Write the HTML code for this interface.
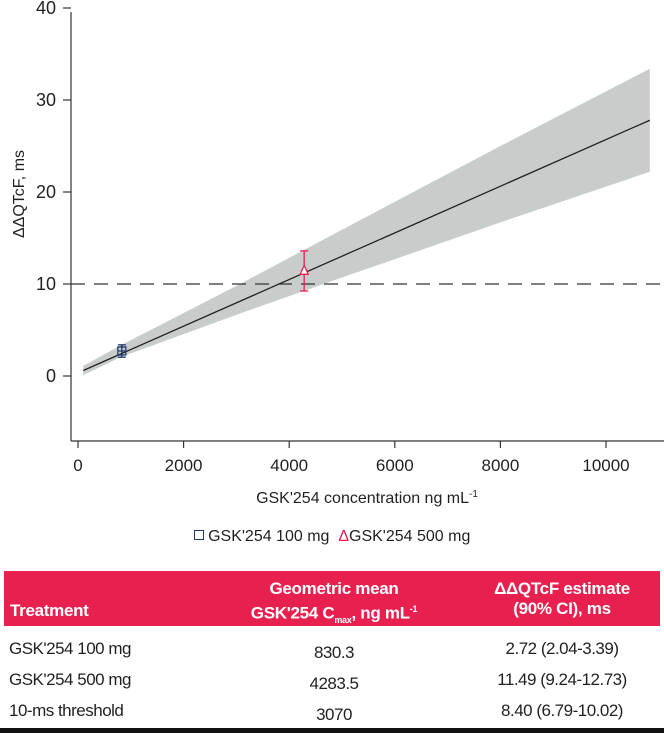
<!DOCTYPE html>
<html><head><meta charset="utf-8"><style>
body{margin:0;width:664px;height:733px;background:#fff;font-family:"Liberation Sans",sans-serif;overflow:hidden;position:relative}
svg{position:absolute;left:0;top:0}
.t{position:absolute;font-size:17px;color:#231f20;letter-spacing:-0.5px}
</style></head><body>
<svg id="chart" width="664" height="560"></svg>
<div style="position:absolute;top:528px;left:0;width:664px;text-align:center;font-size:16px;color:#231f20">
<span><span style="display:inline-block;width:8px;height:8px;border:1.5px solid #1f3a6e;vertical-align:1px"></span> GSK'254 100 mg</span>
&nbsp;<span><span style="color:#e8204f">&#916;</span>GSK'254 500 mg</span>
</div>
<div style="position:absolute;left:4px;top:571px;width:656px;height:55px;background:#e8204f;color:#fff;font-weight:bold;font-size:17px;letter-spacing:-0.3px">
<div style="position:absolute;left:6px;top:30px">Treatment</div>
<div style="position:absolute;left:200px;width:260px;top:8px;text-align:center;line-height:20px">Geometric mean<br>GSK'254 C<sub style="font-size:9px">max</sub>, ng mL<sup style="font-size:9px">-1</sup></div>
<div style="position:absolute;left:460px;width:196px;top:8px;text-align:center;line-height:20px">&#916;&#916;QTcF estimate<br>(90% CI), ms</div>
</div>
<div class="t" style="left:9px;top:639px">GSK'254 100 mg</div>
<div class="t" style="left:204px;width:260px;text-align:center;top:643px">830.3</div>
<div class="t" style="left:464px;width:196px;text-align:center;top:639px">2.72 (2.04-3.39)</div>
<div class="t" style="left:9px;top:670px">GSK'254 500 mg</div>
<div class="t" style="left:204px;width:260px;text-align:center;top:674px">4283.5</div>
<div class="t" style="left:464px;width:196px;text-align:center;top:670px">11.49 (9.24-12.73)</div>
<div class="t" style="left:9px;top:701px">10-ms threshold</div>
<div class="t" style="left:204px;width:260px;text-align:center;top:705px">3070</div>
<div class="t" style="left:464px;width:196px;text-align:center;top:701px">8.40 (6.79-10.02)</div>
<div style="position:absolute;left:0;top:728px;width:664px;height:5px;background:#111"></div>
<script>
const yTicks=[0,10,20,30,40];
const xTicks=[0,2000,4000,6000,8000,10000];
const bandConc=[100,830,3070,5000,8000,10830];
const bandLower=[0.1,2.1,6.8,10.7,16.7,22.2];
const bandUpper=[1.1,3.4,10.0,15.9,25.0,33.4];
const fitConc=[100,10830];
const fitVal=[0.6,27.8];
const ptConc=[830.3,4283.5];
const ptVal=[2.72,11.49];
const ptLo=[2.04,9.24];
const ptHi=[3.39,13.6];
const ptXerr=[60,60];
const threshold=10;
const X=v=>78+v*0.0528, Y=v=>376-v*9.2;
const svg=document.getElementById('chart');
const NS='http://www.w3.org/2000/svg';
function mk(t,a,p){const e=document.createElementNS(NS,t);for(const k in a)e.setAttribute(k,a[k]);(p||svg).appendChild(e);return e;}
let d=bandConc.map((c,i)=>(i?'L':'M')+X(c)+','+Y(bandUpper[i])).join('')+bandConc.slice().reverse().map((c,j)=>{const i=bandConc.length-1-j;return 'L'+X(c)+','+Y(bandLower[i]);}).join('')+'Z';
let b=mk('path',{d:d,fill:'#c8cdcc'});


let th=mk('line',{x1:71,x2:664,y1:Y(threshold),y2:Y(threshold),stroke:'#333','stroke-width':1.3,'stroke-dasharray':'14,9'});


let fl=mk('line',{x1:X(fitConc[0]),y1:Y(fitVal[0]),x2:X(fitConc[1]),y2:Y(fitVal[1]),stroke:'#222','stroke-width':1.3});


mk('line',{x1:71,y1:12,x2:71,y2:441,stroke:'#333','stroke-width':1.2});
mk('line',{x1:71,y1:441,x2:664,y2:441,stroke:'#333','stroke-width':1.2});
yTicks.forEach(v=>{mk('line',{x1:63,x2:71,y1:Y(v),y2:Y(v),stroke:'#333','stroke-width':1.2});
let t=mk('text',{x:56,y:Y(v)+6,'text-anchor':'end','font-size':18,fill:'#231f20'});t.textContent=v;

});
xTicks.forEach(v=>{mk('line',{x1:X(v),x2:X(v),y1:441,y2:448,stroke:'#333','stroke-width':1.2});
let t=mk('text',{x:X(v),y:471,'text-anchor':'middle','font-size':17,fill:'#231f20'});t.textContent=v;

});
let yt=mk('text',{x:0,y:0,transform:'translate(24,194) rotate(-90)','text-anchor':'middle','font-size':16,fill:'#231f20'});yt.textContent='\u0394\u0394QTcF, ms';


let xt=mk('text',{x:367,y:503,'text-anchor':'middle','font-size':16,fill:'#231f20'});xt.innerHTML='GSK\'254 concentration ng mL<tspan dy="-6" font-size="10">-1</tspan>';


const cols=['#1f3a6e','#e8204f'];
ptConc.forEach((c,i)=>{const g=mk('g',{stroke:cols[i],'stroke-width':1.3,fill:'none'});


mk('line',{x1:X(c),x2:X(c),y1:Y(ptLo[i]),y2:Y(ptHi[i])},g);
mk('line',{x1:X(c)-4,x2:X(c)+4,y1:Y(ptLo[i]),y2:Y(ptLo[i])},g);
mk('line',{x1:X(c)-4,x2:X(c)+4,y1:Y(ptHi[i]),y2:Y(ptHi[i])},g);
mk('line',{x1:X(c-ptXerr[i]),x2:X(c+ptXerr[i]),y1:Y(ptVal[i]),y2:Y(ptVal[i])},g);
const x=X(c),y=Y(ptVal[i]);
if(i==0)mk('rect',{x:x-4,y:y-4,width:8,height:8},g);
else mk('path',{d:`M${x},${y-5}L${x+4},${y+4}L${x-4},${y+4}Z`,fill:'#fff'},g);});
</script>
</body></html>
